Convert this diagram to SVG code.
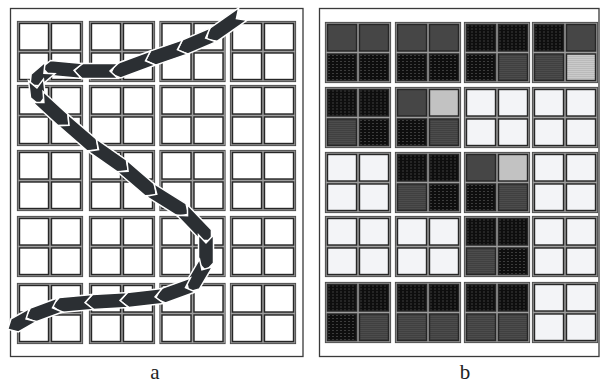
<svg xmlns="http://www.w3.org/2000/svg" width="601" height="383" viewBox="0 0 601 383">
  <style>
    .panel{fill:#fff;stroke:#3a3a3a;stroke-width:1.3}
    .wh{fill:#fff}
    .em{fill:#f3f4f7}
    .dk{fill:url(#pd)}
    .md{fill:url(#pm)}
    .lt{fill:url(#pl)}
    .seg{fill:#2b2f33;stroke:#fff;stroke-width:1.5;stroke-linejoin:miter}
    .lbl{font-family:"Liberation Serif","Times New Roman",serif;font-size:21px;fill:#222;text-anchor:middle}
  </style>
  <defs>
    <!-- cell textures -->
    <pattern id="pd" width="4" height="3" patternUnits="userSpaceOnUse">
      <rect width="4" height="3" fill="#0e0e0e"/>
      <rect x="1" y="1" width="1" height="1" fill="#6a6a6a"/>
    </pattern>
    <pattern id="pm" width="2" height="2" patternUnits="userSpaceOnUse">
      <rect width="2" height="2" fill="#2a2a2a"/>
      <rect width="1" height="1" fill="#6e6e6e"/>
      <rect x="1" y="1" width="1" height="1" fill="#555"/>
    </pattern>
    <pattern id="pl" width="2" height="2" patternUnits="userSpaceOnUse">
      <rect width="2" height="2" fill="#d8d8d8"/>
      <rect width="1" height="1" fill="#9c9c9c"/>
      <rect x="1" y="1" width="1" height="1" fill="#bcbcbc"/>
    </pattern>
    <!-- block outline with the grey rims of its four cells -->
    <g id="frame" fill="none">
      <rect x="0.5" y="0.5" width="65" height="60" stroke="#4a4a4a" stroke-width="1.2"/>
      <rect x="2.5" y="2.5" width="29" height="26.5" stroke="#959595" stroke-width="3.4"/>
      <rect x="34.5" y="2.5" width="29" height="26.5" stroke="#959595" stroke-width="3.4"/>
      <rect x="2.5" y="32" width="29" height="26.5" stroke="#959595" stroke-width="3.4"/>
      <rect x="34.5" y="32" width="29" height="26.5" stroke="#959595" stroke-width="3.4"/>
    </g>
    <rect id="c" width="29" height="26.5" stroke="#262626" stroke-width="1.4"/>
    <g id="quad">
      <use href="#c" x="2.5" y="2.5"/>
      <use href="#c" x="34.5" y="2.5"/>
      <use href="#c" x="2.5" y="32"/>
      <use href="#c" x="34.5" y="32"/>
    </g>
  </defs>

  <rect width="601" height="383" fill="#fff"/>

  <!-- panel a -->
  <rect class="panel" x="10.5" y="8.5" width="292.5" height="348"/>
  <g id="a-r1c1" transform="translate(17,21)"><use href="#frame"/><use href="#quad" class="wh"/></g>
  <g id="a-r1c2" transform="translate(89,21)"><use href="#frame"/><use href="#quad" class="wh"/></g>
  <g id="a-r1c3" transform="translate(159.5,21)"><use href="#frame"/><use href="#quad" class="wh"/></g>
  <g id="a-r1c4" transform="translate(230,21)"><use href="#frame"/><use href="#quad" class="wh"/></g>
  <g id="a-r2c1" transform="translate(17,85)"><use href="#frame"/><use href="#quad" class="wh"/></g>
  <g id="a-r2c2" transform="translate(89,85)"><use href="#frame"/><use href="#quad" class="wh"/></g>
  <g id="a-r2c3" transform="translate(159.5,85)"><use href="#frame"/><use href="#quad" class="wh"/></g>
  <g id="a-r2c4" transform="translate(230,85)"><use href="#frame"/><use href="#quad" class="wh"/></g>
  <g id="a-r3c1" transform="translate(17,150)"><use href="#frame"/><use href="#quad" class="wh"/></g>
  <g id="a-r3c2" transform="translate(89,150)"><use href="#frame"/><use href="#quad" class="wh"/></g>
  <g id="a-r3c3" transform="translate(159.5,150)"><use href="#frame"/><use href="#quad" class="wh"/></g>
  <g id="a-r3c4" transform="translate(230,150)"><use href="#frame"/><use href="#quad" class="wh"/></g>
  <g id="a-r4c1" transform="translate(17,216)"><use href="#frame"/><use href="#quad" class="wh"/></g>
  <g id="a-r4c2" transform="translate(89,216)"><use href="#frame"/><use href="#quad" class="wh"/></g>
  <g id="a-r4c3" transform="translate(159.5,216)"><use href="#frame"/><use href="#quad" class="wh"/></g>
  <g id="a-r4c4" transform="translate(230,216)"><use href="#frame"/><use href="#quad" class="wh"/></g>
  <g id="a-r5c1" transform="translate(17,283)"><use href="#frame"/><use href="#quad" class="wh"/></g>
  <g id="a-r5c2" transform="translate(89,283)"><use href="#frame"/><use href="#quad" class="wh"/></g>
  <g id="a-r5c3" transform="translate(159.5,283)"><use href="#frame"/><use href="#quad" class="wh"/></g>
  <g id="a-r5c4" transform="translate(230,283)"><use href="#frame"/><use href="#quad" class="wh"/></g>

  <!-- scan path: chain of chevrons -->
  <g id="connectors">
    <path class="seg" transform="translate(243,14) rotate(145)" d="M0,-7.5H36.6L44.6,0L36.6,7.5H0L8,0Z"/>
    <path class="seg" transform="translate(213,35) rotate(156.8)" d="M0,-7.5H30.5L38.5,0L30.5,7.5H0L8,0Z"/>
    <path class="seg" transform="translate(185,47) rotate(161)" d="M0,-7.5H33.8L41.8,0L33.8,7.5H0L8,0Z"/>
    <path class="seg" transform="translate(153,58) rotate(159.6)" d="M0,-7.5H37.3L45.3,0L37.3,7.5H0L8,0Z"/>
    <path class="seg" transform="translate(118,71) rotate(180)" d="M0,-7.5H36L44,0L36,7.5H0L8,0Z"/>
    <path class="seg" transform="translate(82,71) rotate(185.4)" d="M0,-7.5H32.1L40.1,0L32.1,7.5H0L8,0Z"/>
    <path class="seg" transform="translate(50,68) rotate(139.4)" d="M0,-7.5H18.4L26.4,0L18.4,7.5H0L8,0Z"/>
    <path class="seg" transform="translate(36,80) rotate(83.3)" d="M0,-7.5H17.1L25.1,0L17.1,7.5H0L8,0Z"/>
    <path class="seg" transform="translate(38,97) rotate(42.6)" d="M0,-7.5H34L42,0L34,7.5H0L8,0Z"/>
    <path class="seg" transform="translate(63,120) rotate(40.8)" d="M0,-7.5H38.3L46.3,0L38.3,7.5H0L8,0Z"/>
    <path class="seg" transform="translate(92,145) rotate(35)" d="M0,-7.5H36.6L44.6,0L36.6,7.5H0L8,0Z"/>
    <path class="seg" transform="translate(122,166) rotate(40.6)" d="M0,-7.5H36.9L44.9,0L36.9,7.5H0L8,0Z"/>
    <path class="seg" transform="translate(150,190) rotate(32)" d="M0,-7.5H37.7L45.7,0L37.7,7.5H0L8,0Z"/>
    <path class="seg" transform="translate(182,210) rotate(46.2)" d="M0,-7.5H34.7L42.7,0L34.7,7.5H0L8,0Z"/>
    <path class="seg" transform="translate(206,235) rotate(90)" d="M0,-7.5H28L36,0L28,7.5H0L8,0Z"/>
    <path class="seg" transform="translate(206,263) rotate(120.6)" d="M0,-7.5H25.6L33.6,0L25.6,7.5H0L8,0Z"/>
    <path class="seg" transform="translate(193,285) rotate(160)" d="M0,-7.5H32L40,0L32,7.5H0L8,0Z"/>
    <path class="seg" transform="translate(163,296) rotate(173.5)" d="M0,-7.5H35.2L43.2,0L35.2,7.5H0L8,0Z"/>
    <path class="seg" transform="translate(128,300) rotate(176.7)" d="M0,-7.5H35.1L43.1,0L35.1,7.5H0L8,0Z"/>
    <path class="seg" transform="translate(93,302) rotate(174.8)" d="M0,-7.5H33.1L41.1,0L33.1,7.5H0L8,0Z"/>
    <path class="seg" transform="translate(60,305) rotate(159.7)" d="M0,-7.5H28.8L36.8,0L28.8,7.5H0L8,0Z"/>
    <path class="seg" transform="translate(33,315) rotate(150.5)" d="M0,-7.5H21L29,0L21,7.5H0L8,0Z"/>
  </g>

  <!-- panel b -->
  <rect class="panel" x="319.5" y="8.5" width="279.5" height="348"/>
  <g id="b-r1c1" transform="translate(325,22)"><use href="#frame"/><use href="#c" x="2.5" y="2.5" class="md"/><use href="#c" x="34.5" y="2.5" class="md"/><use href="#c" x="2.5" y="32" class="dk"/><use href="#c" x="34.5" y="32" class="dk"/></g>
  <g id="b-r1c2" transform="translate(395,22)"><use href="#frame"/><use href="#c" x="2.5" y="2.5" class="md"/><use href="#c" x="34.5" y="2.5" class="md"/><use href="#c" x="2.5" y="32" class="dk"/><use href="#c" x="34.5" y="32" class="dk"/></g>
  <g id="b-r1c3" transform="translate(464,22)"><use href="#frame"/><use href="#c" x="2.5" y="2.5" class="dk"/><use href="#c" x="34.5" y="2.5" class="dk"/><use href="#c" x="2.5" y="32" class="dk"/><use href="#c" x="34.5" y="32" class="md"/></g>
  <g id="b-r1c4" transform="translate(532,22)"><use href="#frame"/><use href="#c" x="2.5" y="2.5" class="dk"/><use href="#c" x="34.5" y="2.5" class="md"/><use href="#c" x="2.5" y="32" class="md"/><use href="#c" x="34.5" y="32" class="lt"/></g>
  <g id="b-r2c1" transform="translate(325,87)"><use href="#frame"/><use href="#c" x="2.5" y="2.5" class="dk"/><use href="#c" x="34.5" y="2.5" class="dk"/><use href="#c" x="2.5" y="32" class="md"/><use href="#c" x="34.5" y="32" class="dk"/></g>
  <g id="b-r2c2" transform="translate(395,87)"><use href="#frame"/><use href="#c" x="2.5" y="2.5" class="md"/><use href="#c" x="34.5" y="2.5" class="lt"/><use href="#c" x="2.5" y="32" class="dk"/><use href="#c" x="34.5" y="32" class="md"/></g>
  <g id="b-r2c3" transform="translate(464,87)"><use href="#frame"/><use href="#quad" class="em"/></g>
  <g id="b-r2c4" transform="translate(532,87)"><use href="#frame"/><use href="#quad" class="em"/></g>
  <g id="b-r3c1" transform="translate(325,152)"><use href="#frame"/><use href="#quad" class="em"/></g>
  <g id="b-r3c2" transform="translate(395,152)"><use href="#frame"/><use href="#c" x="2.5" y="2.5" class="dk"/><use href="#c" x="34.5" y="2.5" class="dk"/><use href="#c" x="2.5" y="32" class="md"/><use href="#c" x="34.5" y="32" class="dk"/></g>
  <g id="b-r3c3" transform="translate(464,152)"><use href="#frame"/><use href="#c" x="2.5" y="2.5" class="md"/><use href="#c" x="34.5" y="2.5" class="lt"/><use href="#c" x="2.5" y="32" class="dk"/><use href="#c" x="34.5" y="32" class="md"/></g>
  <g id="b-r3c4" transform="translate(532,152)"><use href="#frame"/><use href="#quad" class="em"/></g>
  <g id="b-r4c1" transform="translate(325,216)"><use href="#frame"/><use href="#quad" class="em"/></g>
  <g id="b-r4c2" transform="translate(395,216)"><use href="#frame"/><use href="#quad" class="em"/></g>
  <g id="b-r4c3" transform="translate(464,216)"><use href="#frame"/><use href="#c" x="2.5" y="2.5" class="dk"/><use href="#c" x="34.5" y="2.5" class="dk"/><use href="#c" x="2.5" y="32" class="md"/><use href="#c" x="34.5" y="32" class="dk"/></g>
  <g id="b-r4c4" transform="translate(532,216)"><use href="#frame"/><use href="#quad" class="em"/></g>
  <g id="b-r5c1" transform="translate(325,282)"><use href="#frame"/><use href="#c" x="2.5" y="2.5" class="dk"/><use href="#c" x="34.5" y="2.5" class="dk"/><use href="#c" x="2.5" y="32" class="dk"/><use href="#c" x="34.5" y="32" class="md"/></g>
  <g id="b-r5c2" transform="translate(395,282)"><use href="#frame"/><use href="#c" x="2.5" y="2.5" class="dk"/><use href="#c" x="34.5" y="2.5" class="dk"/><use href="#c" x="2.5" y="32" class="md"/><use href="#c" x="34.5" y="32" class="md"/></g>
  <g id="b-r5c3" transform="translate(464,282)"><use href="#frame"/><use href="#c" x="2.5" y="2.5" class="dk"/><use href="#c" x="34.5" y="2.5" class="dk"/><use href="#c" x="2.5" y="32" class="md"/><use href="#c" x="34.5" y="32" class="md"/></g>
  <g id="b-r5c4" transform="translate(532,282)"><use href="#frame"/><use href="#quad" class="em"/></g>

  <!-- captions -->
  <text class="lbl" x="155" y="379">a</text>
  <text class="lbl" x="465" y="379">b</text>
</svg>
